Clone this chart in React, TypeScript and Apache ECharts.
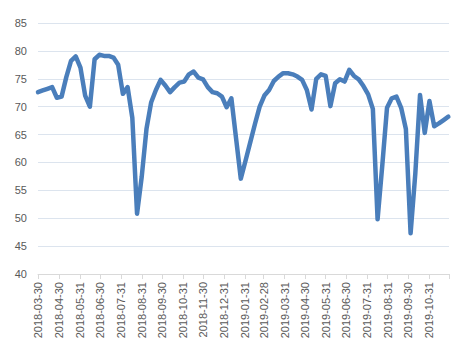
import React, { useEffect, useRef } from "react";
import * as echarts from "echarts";

// Weekly observations (every Friday) starting 2018-03-30
const startDate = "2018-03-30";
const weeklyValues: number[] = [
  72.6, 72.9, 73.2, 73.5, 71.6, 71.8, 75.3, 78.2, 79.0, 77.0,
  72.0, 70.0, 78.5, 79.3, 79.1, 79.1, 78.8, 77.5, 72.3, 73.5,
  68.0, 50.8, 57.5, 66.0, 70.8, 73.0, 74.8, 73.8, 72.6, 73.5,
  74.3, 74.5, 75.8, 76.3, 75.2, 74.9, 73.5, 72.6, 72.4, 71.8,
  69.9, 71.5, 64.3, 57.1, 60.3, 63.6, 66.9, 70.0, 72.0, 73.0,
  74.6, 75.4, 76.0, 76.0, 75.8, 75.4, 74.8, 73.0, 69.5, 75.0,
  75.8, 75.5, 70.1, 74.2, 74.9, 74.5, 76.6, 75.5, 74.9, 73.7,
  72.2, 69.6, 49.8, 59.5, 69.8, 71.5, 71.8, 69.8, 66.0, 47.3,
  58.0, 72.1, 65.3, 71.0, 66.5, 67.0, 67.6, 68.2,
];

const tickLabels: string[] = [
  "2018-03-30", "2018-04-30", "2018-05-31", "2018-06-30", "2018-07-31",
  "2018-08-31", "2018-09-30", "2018-10-31", "2018-11-30", "2018-12-31",
  "2019-01-31", "2019-02-28", "2019-03-31", "2019-04-30", "2019-05-31",
  "2019-06-30", "2019-07-31", "2019-08-31", "2019-09-30", "2019-10-31",
];
const axisEnd = "2019-11-30";

const yMin = 40;
const yMax = 85;
const yStep = 5;

function ts(s: string): number {
  const [y, m, d] = s.split("-").map(Number);
  return new Date(y, m - 1, d).getTime();
}

function fmt(v: number): string {
  const d = new Date(v);
  const mm = String(d.getMonth() + 1).padStart(2, "0");
  const dd = String(d.getDate()).padStart(2, "0");
  return `${d.getFullYear()}-${mm}-${dd}`;
}

export default function App() {
  const ref = useRef<HTMLDivElement>(null);

  useEffect(() => {
    document.body.style.margin = "0";
    if (!ref.current) return;
    const chart = echarts.init(ref.current, undefined, { renderer: "svg" });
    const [sy, sm, sd] = startDate.split("-").map(Number);
    const data = weeklyValues.map((v, i) => [
      new Date(sy, sm - 1, sd + 7 * i).getTime(),
      v,
    ]);
    const labelTs = tickLabels.map(ts);
    const tickTs = [...labelTs, ts(axisEnd)];

    chart.setOption({
      animation: false,
      backgroundColor: "#ffffff",
      grid: { left: 38, right: 23, top: 23, bottom: 80, containLabel: false },
      xAxis: {
        type: "value",
        min: ts(startDate),
        max: ts(axisEnd),
        axisLine: { show: true, onZero: false, lineStyle: { color: "#d9d9d9", width: 1 } },
        axisTick: {
          show: true,
          length: 5,
          lineStyle: { color: "#d9d9d9" },
          customValues: tickTs,
        },
        axisLabel: {
          rotate: 90,
          margin: 8,
          color: "#595959",
          fontSize: 11,
          fontFamily: "Liberation Sans, Arial, sans-serif",
          customValues: labelTs,
          hideOverlap: false,
          formatter: (v: number) => fmt(v),
        },
        splitLine: { show: false },
      },
      yAxis: {
        type: "value",
        min: yMin,
        max: yMax,
        interval: yStep,
        axisLine: { show: false },
        axisTick: { show: false },
        axisLabel: {
          color: "#595959",
          fontSize: 11,
          margin: 11,
          fontFamily: "Liberation Sans, Arial, sans-serif",
        },
        splitLine: { show: true, lineStyle: { color: "#dce4ee", width: 1 } },
      },
      series: [
        {
          type: "line",
          data,
          showSymbol: false,
          symbol: "none",
          lineStyle: { color: "#4a7ebb", width: 4.5, join: "round", cap: "round" },
          itemStyle: { color: "#4a7ebb" },
        },
      ],
    });
    return () => chart.dispose();
  }, []);

  return <div ref={ref} style={{ width: 472, height: 354 }} />;
}
